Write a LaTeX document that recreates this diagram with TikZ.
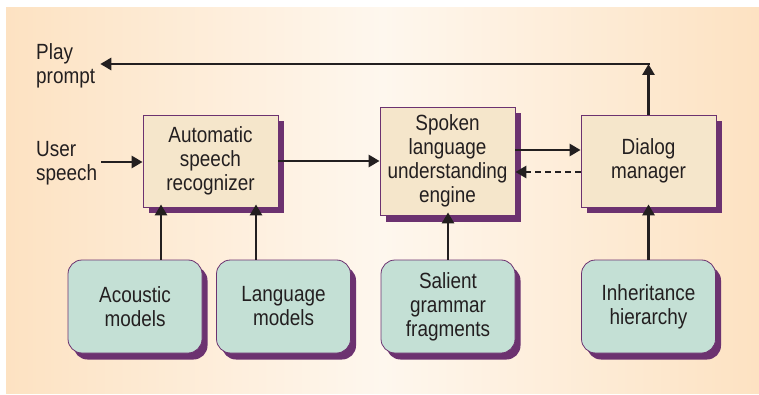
\documentclass[tikz,border=0pt]{standalone}
\usepackage{fontspec}
\setmainfont[FakeStretch=0.86]{Liberation Sans}
\usetikzlibrary{arrows.meta,shadows}

\definecolor{peach}{HTML}{FDE2C2}
\definecolor{cream}{HTML}{FEF7EE}
\definecolor{boxFill}{HTML}{F5E6CB}
\definecolor{modelFill}{HTML}{C4E0D5}
\definecolor{plum}{HTML}{6C3270}
\definecolor{ink}{HTML}{231F20}

\begin{document}
\begin{tikzpicture}
[x=1pt,y=-1pt,text=ink,
 font=\fontsize{22}{24}\selectfont,
 procBox/.style={shape=rectangle,draw=plum,line width=0.8pt,fill=boxFill,
   minimum width=135pt,align=center,inner sep=0pt,
   general shadow={fill=plum,draw=none,shadow xshift=5.5pt,shadow yshift=-6.5pt}},
 modelBox/.style={procBox,rounded corners=14pt,fill=modelFill,
   minimum width=134pt,minimum height=93pt},
 lineDecorate/.style={draw=ink,line width=2.8pt,-{Triangle[length=11pt,width=12pt]}}]
%% background
\useasboundingbox (0,0) rectangle (759,395);
\shade[left color=peach,right color=peach,middle color=cream] (6,8) rectangle (759,393);
%% outer labels
\node (play) at (36,65.5) [anchor=west,align=left,inner sep=0pt] {Play\\prompt};
\node (user) at (36,163.5) [anchor=west,align=left,inner sep=0pt] {User\\speech};
%% processing blocks
\node (asr) at (210.5,161) [procBox,minimum height=92pt] {Automatic\\speech\\recognizer};
\node (slu) at (447.5,161) [procBox,minimum height=108pt] {Spoken\\language\\understanding\\engine};
\node (dm) at (648.5,161) [procBox,minimum height=92pt] {Dialog\\manager};
%% knowledge sources
\foreach \nodename/\x/\boxtext in {acoustic/135/{Acoustic\\models},
    language/283.5/{Language\\models}, salient/448/{Salient\\grammar\\fragments},
    inherit/648.5/{Inheritance\\hierarchy}} {
  \node (\nodename) at (\x,306.5) [modelBox] {\boxtext};
}
%% arrows
\coordinate (corner) at (dm.north |- 0,64);
\draw[lineDecorate] ([xshift=4pt,yshift=1.5pt]user.east) -- ([yshift=1.5pt]user.east -| asr.west);
\draw[lineDecorate] (asr.east) -- (asr.east -| slu.west);
\draw[lineDecorate] ([yshift=11pt]slu.east) -- ([yshift=11pt]dm.west);
\draw[lineDecorate,dash pattern=on 6pt off 4pt] ([yshift=-11pt]dm.west) -- ([yshift=-11pt]slu.east);
\draw[lineDecorate,line cap=rect] (corner) -- ([xshift=5pt]corner -| play.east);
\draw[lineDecorate] (dm.north) -- (corner);
\draw[lineDecorate,shorten >=-3pt] ([xshift=26pt]acoustic.north) -- ([xshift=26pt]acoustic.north |- asr.south);
\draw[lineDecorate,shorten >=-3pt] ([xshift=-27.5pt]language.north) -- ([xshift=-27.5pt]language.north |- asr.south);
\draw[lineDecorate,shorten >=-3pt] (salient.north) -- (salient.north |- slu.south);
\draw[lineDecorate,shorten >=-3pt] (inherit.north) -- (dm.south);
\end{tikzpicture}
\end{document}
